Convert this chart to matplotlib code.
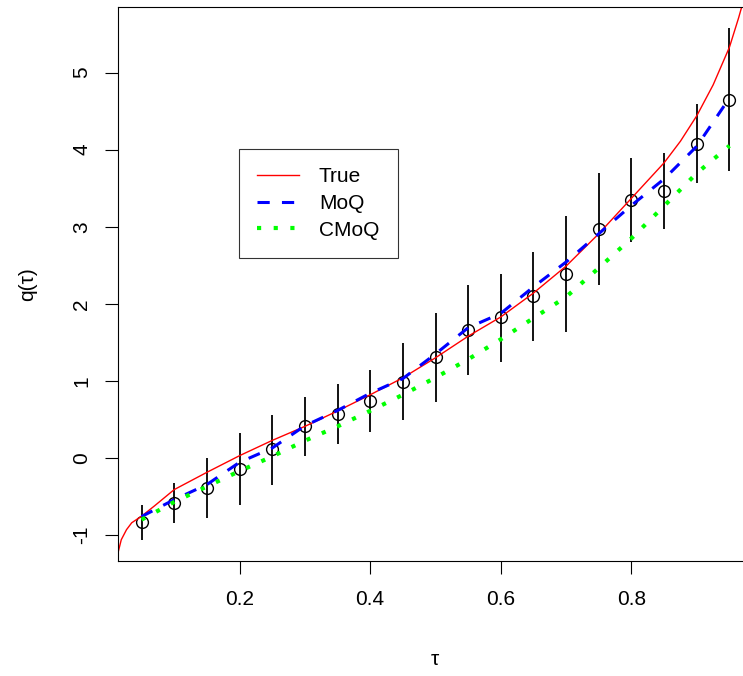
import matplotlib
matplotlib.use('Agg')
import matplotlib.pyplot as plt

plt.rcParams['font.family'] = ['Liberation Sans', 'DejaVu Sans']

# quantile levels and estimates
tau = [0.05, 0.10, 0.15, 0.20, 0.25, 0.30, 0.35, 0.40, 0.45, 0.50,
       0.55, 0.60, 0.65, 0.70, 0.75, 0.80, 0.85, 0.90, 0.95]
est = [-0.833, -0.578, -0.384, -0.138, 0.112, 0.409, 0.569, 0.737, 0.991, 1.307,
       1.66, 1.824, 2.10, 2.393, 2.97, 3.35, 3.46, 4.075, 4.648]
lower = [-1.066, -0.84, -0.772, -0.608, -0.354, 0.021, 0.181, 0.331, 0.492, 0.724,
         1.074, 1.25, 1.514, 1.638, 2.242, 2.802, 2.966, 3.565, 3.717]
upper = [-0.608, -0.32, 0.004, 0.318, 0.564, 0.789, 0.957, 1.142, 1.488, 1.884,
         2.238, 2.388, 2.678, 3.139, 3.70, 3.894, 3.95, 4.587, 5.584]
moq = [-0.76, -0.54, -0.345, -0.056, 0.129, 0.418, 0.616, 0.84, 1.03, 1.35,
       1.69, 1.876, 2.22, 2.543, 2.91, 3.277, 3.62, 4.044, 4.67]
cmoq = [-0.80, -0.57, -0.37, -0.17, 0.02, 0.224, 0.41, 0.612, 0.82, 1.043,
        1.28, 1.54, 1.815, 2.09, 2.466, 2.85, 3.27, 3.695, 4.05]

# true quantile curve
tau_true = [0.014, 0.019, 0.027, 0.035, 0.05, 0.07, 0.10, 0.15, 0.20, 0.25,
            0.30, 0.35, 0.40, 0.45, 0.50, 0.55, 0.60, 0.65, 0.70, 0.75,
            0.80, 0.85, 0.875, 0.90, 0.925, 0.95, 0.964, 0.972]
q_true = [-1.23, -1.06, -0.93, -0.84, -0.755, -0.62, -0.41, -0.186, 0.03, 0.228,
          0.41, 0.61, 0.82, 1.04, 1.30, 1.58, 1.83, 2.14, 2.49, 2.91,
          3.37, 3.83, 4.11, 4.44, 4.84, 5.33, 5.71, 5.95]

fig = plt.figure(figsize=(7.43, 6.76), dpi=100)
ax = fig.add_axes([118 / 743, 115.3 / 676, 635 / 743, 553.7 / 676])

ax.vlines(tau, lower, upper, color='black', linewidth=1.3)
ax.plot(tau, est, 'o', mfc='none', mec='black', ms=8.5, mew=1.0)
ax.plot(tau_true, q_true, color='red', linewidth=1.0, label='True')
ax.plot(tau, moq, color='blue', linewidth=2.2, linestyle=(0, (4, 4)),
        dash_capstyle='butt', label='MoQ')
ax.plot(tau, cmoq, color='#00ff00', linewidth=3, linestyle=(0, (1, 3)),
        dash_capstyle='butt', label='CMoQ')

ax.set_xlim(0.014, 0.986)
ax.set_ylim(-1.332, 5.85)
ax.set_xticks([0.2, 0.4, 0.6, 0.8])
ax.set_xticklabels(['0.2', '0.4', '0.6', '0.8'])
ax.set_yticks([-1, 0, 1, 2, 3, 4, 5])
ax.set_yticklabels(['-1', '0', '1', '2', '3', '4', '5'])
ax.tick_params(axis='both', length=9.4, width=0.8, labelsize=15, direction='out')
ax.tick_params(axis='x', pad=12)
ax.tick_params(axis='y', pad=10, labelrotation=90)
for lab in ax.get_yticklabels():
    lab.set_va('center')
for s in ax.spines.values():
    s.set_linewidth(0.8)

ax.set_xlabel('τ', fontsize=15, va='center')
ax.xaxis.set_label_coords(0.499, -0.179)
ax.set_ylabel('q(τ)', fontsize=15, va='center')
ax.yaxis.set_label_coords(-0.143, 0.5)

leg = ax.legend(loc='upper left', bbox_to_anchor=(239 / 743, 1 - 149 / 676),
                bbox_transform=fig.transFigure, fontsize=15, frameon=True,
                fancybox=False, borderaxespad=0, handlelength=2.0,
                handletextpad=0.95, labelspacing=0.37, borderpad=0.88)
leg.get_frame().set_edgecolor('black')
leg.get_frame().set_linewidth(0.8)

fig.savefig('out.png', dpi=100)
